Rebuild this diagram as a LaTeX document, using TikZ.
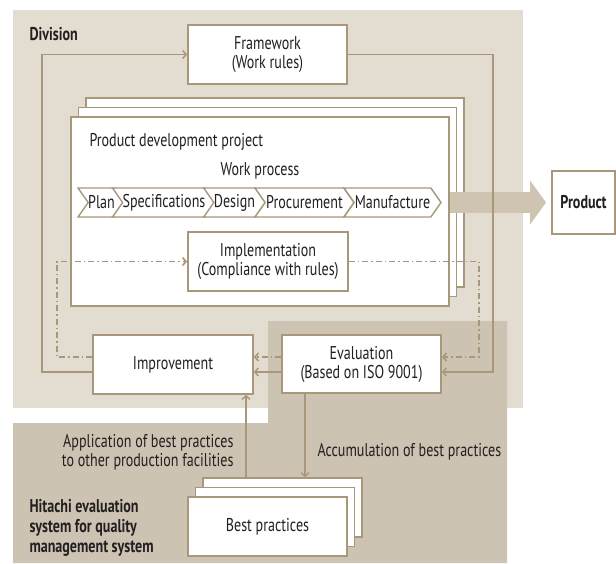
\documentclass[tikz,border=0pt]{standalone}
\usepackage{fontspec}
\setmainfont{PT Sans}[FakeStretch=0.76]
\usetikzlibrary{arrows.meta,positioning,shapes.symbols}
\definecolor{divbg}{HTML}{E3DCD1}
\definecolor{hitbg}{HTML}{CDC3B3}
\definecolor{rule}{HTML}{A8977A}
\definecolor{flow}{HTML}{CFC4B2}
\definecolor{ink}{HTML}{231F20}

\begin{document}
\begin{tikzpicture}[
	x=1pt,y=-1pt,
	font=\fontsize{18.5}{19}\selectfont,
	text=ink,
	box/.style={
		rectangle,draw=rule,line width=1.8pt,fill=white,
		align=center,inner sep=0pt
	},
	chevron/.style={
		signal,signal from=west,signal to=east,
		signal pointer angle=110,
		draw=rule,line width=1.4pt,fill=white,
		inner sep=0pt,minimum height=29pt,minimum width=#1
	},
	link/.style={draw=rule,line width=1.4pt,-{Straight Barb[length=3.5pt,width=8pt]}},
	check/.style={link,line width=1.6pt,dash pattern=on 6pt off 3pt on 1.5pt off 3pt},
	heading/.style={font=\fontsize{18.5}{20}\selectfont\bfseries,align=left}
	]
	
	\useasboundingbox (0,0) rectangle (616,563);
	
	% backgrounds
	\fill[divbg] (13,10) rectangle (523,408);
	\fill[hitbg] (13,423) -| (268,321) -| (507,563) -- (13,563) -- cycle;
	
	\node[heading,anchor=west] (division) at (26,34) {Division};
	
	\node[box,minimum width=159pt,minimum height=59pt] (framework)
	at (267.5,54.5) {Framework\\(Work rules)};
	
	% project stack
	\node[box,minimum width=378pt,minimum height=189pt] (projectback) at (275,192.5) {};
	\node[box,minimum width=378pt,minimum height=189pt] (projectmid) at (267.5,202) {};
	\node[box,minimum width=378pt,minimum height=189pt] (project) at (260,211.5) {};
	
	\node[anchor=west] (pdp) at (86,142) {Product development project};
	\node (workprocess) at (260,171) {Work process};
	
	\node[chevron=45pt] (plan) at (101.5,202.5) {Plan};
	\node[chevron=100pt] (specs) at (164,202.5) {Specifications};
	\node[chevron=61pt] (design) at (234.5,202.5) {Design};
	\node[chevron=99pt] (procure) at (304.5,202.5) {Procurement};
	\node[chevron=97pt] (manufacture) at (392.5,202.5) {Manufacture};
	
	\node[box,minimum width=160pt,minimum height=59pt] (implementation)
	at (268,261.5) {Implementation\\(Compliance with rules)};
	
	\node[box,minimum width=63pt,minimum height=63pt,font=\fontsize{18.5}{19}\selectfont\bfseries]
	(product) at (583.5,202.5) {Product};
	
	\draw[flow,line width=21pt,-{Triangle[length=16pt,width=43pt]},shorten >=5pt]
	(project.east |- product.west) -- (product.west);
	
	\node[box,minimum width=160pt,minimum height=59pt] (improvement)
	at (173,364.5) {Improvement};
	
	\node[box,minimum width=159pt,minimum height=58pt] (evaluation)
	at (361.5,364) {Evaluation\\(Based on ISO 9001)};
	
	% best practices stack
	\node[box,minimum width=159pt,minimum height=59pt] (bpback) at (282.5,507.5) {};
	\node[box,minimum width=159pt,minimum height=59pt] (bpmid) at (275,517) {};
	\node[box,minimum width=159pt,minimum height=59pt] (bestpractice) at (267.5,526.5) {Best practices};
	
	\node[heading,anchor=west] (hitachi) at (26,528)
	{Hitachi evaluation\\system for quality\\management system};
	
	\node[anchor=east,align=right] (apply) at (237,452)
	{Application of best practices\\to other production facilities};
	\node[anchor=west] (accumulate) at (314,452) {Accumulation of best practices};
	
	% solid loop
	\coordinate (outerright) at (493,54.5);
	\coordinate (outerleft) at (42,54.5);
	\draw[link] (framework.east) -- (outerright) |- ([yshift=-8pt]evaluation.east);
	\draw[link] ([yshift=-8pt]evaluation.west) -- ([yshift=-8pt]evaluation.west -| improvement.east);
	\draw[link] ([yshift=-8pt]evaluation.west -| improvement.west) -| (outerleft) -- (framework.west);
	
	% dash-dot loop
	\coordinate (innerright) at (479,261.5);
	\coordinate (innerleft) at (57,261.5);
	\draw[check] (implementation.east) -- (innerright) |- ([yshift=7pt]evaluation.east);
	\draw[check] ([yshift=7pt]evaluation.west) -- ([yshift=7pt]evaluation.west -| improvement.east);
	\draw[check] ([yshift=7pt]evaluation.west -| improvement.west) -| (innerleft) -- (implementation.west);
	
	\draw[link] ([xshift=-36.5pt]bpback.north) -- ([xshift=-36.5pt]bpback.north |- improvement.south);
	\draw[link] ([xshift=-56.5pt]evaluation.south) -- ([xshift=-56.5pt]evaluation.south |- bpback.north);
	
\end{tikzpicture}
\end{document}
